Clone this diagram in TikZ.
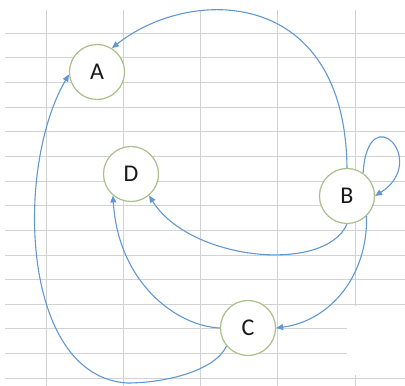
\documentclass[tikz,border=0pt]{standalone}
\usepackage{fontspec}
\setmainfont{Carlito}
\usepackage{tikz}
\usetikzlibrary{arrows.meta}
\definecolor{gridgray}{RGB}{210,210,210}
\definecolor{edgeblue}{RGB}{98,152,210}
\definecolor{ringgreen}{RGB}{170,192,138}
\definecolor{lettergray}{RGB}{25,25,25}

\begin{document}
\begin{tikzpicture}[
        x=1pt, y=1pt,
        state/.style={circle, draw=ringgreen, line width=1.2pt, fill=white, minimum size=55pt, inner sep=0pt, font=\fontsize{24}{24}\selectfont, text=lettergray},
        gridline/.style={draw=gridgray, line width=0.9pt},
        edge/.style={draw=edgeblue, line width=1.1pt, -{Triangle[length=7pt,width=6pt]}}
    ]
        \useasboundingbox[fill=white] (0,0) rectangle (405,386);

        % Sheet grid
        \foreach \k in {0,...,14}
            \draw[gridline] (5,352.7-24.63*\k) -- (405,352.7-24.63*\k);
        \foreach \x in {46.7,123.3,200,277,355}
            \draw[gridline] (\x,376) -- (\x,0);
        \fill[white] (347,11) rectangle (405,80);

        % States
        \node[state] (A) at (97,314) {A};
        \node[state] (D) at (131,212) {D};
        \node[state] (B) at (347,190) {B};
        \node[state] (C) at (248,58) {C};
        \coordinate (bot) at (127,3);

        % Transitions
        \draw[edge] (B.north) .. controls (345,400) and (190,400) .. (A.58);
        \draw[edge] (B.55) .. controls (368,290) and (430,225) .. (B.east);
        \draw[edge] (B.south) .. controls (325,112) and (190,125) .. (D.310);
        \draw[edge] (B.314) .. controls (368,110) and (330,65) .. (C.east);
        \draw[edge] (C.west) .. controls (175,60) and (118,105) .. (D.230);
        \draw[edge] (C.220) .. controls (215,15) and (165,3) .. (bot)
            .. controls (20,10) and (15,220) .. (A.185);

    \end{tikzpicture}
\end{document}
